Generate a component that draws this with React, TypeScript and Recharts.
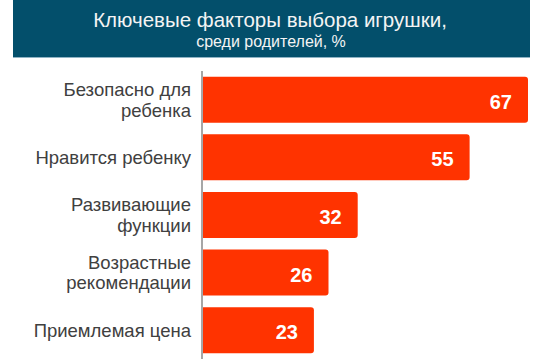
import React, { ReactElement } from 'react';
import { BarChart, Bar, XAxis, YAxis } from 'recharts';

const categories = [
  'Безопасно для|ребенка',
  'Нравится ребенку',
  'Развивающие|функции',
  'Возрастные|рекомендации',
  'Приемлемая цена',
];
const shares = [67, 55, 32, 26, 23];

const titleLine = 'Ключевые факторы выбора игрушки,';
const subtitleLine = 'среди родителей, %';

const FONT = '"Liberation Sans", Arial, sans-serif';

const data = categories.map((name, i) => ({ name, value: shares[i] }));

// category label, split on "|" into lines, right aligned next to the axis
const CategoryTick = (props: { x?: number; y?: number; payload?: { value: string } }): ReactElement => {
  const { x = 0, y = 0, payload } = props;
  const lines = (payload?.value ?? '').split('|');
  const lineHeight = 20.5;
  const tx = x - 3;
  return (
    <text x={tx} y={y} textAnchor="end" fill="#404040" fontSize={18.5} fontFamily={FONT}>
      {lines.map((line, i) => (
        <tspan key={i} x={tx} y={y + 6.5 + (i - (lines.length - 1) / 2) * lineHeight}>
          {line}
        </tspan>
      ))}
    </text>
  );
};

const ValueLabel = (props: { x?: number; y?: number; width?: number; height?: number; value?: number }): ReactElement => {
  const { x = 0, y = 0, width = 0, height = 0, value } = props;
  return (
    <text
      x={Number(x) + Number(width) - 16}
      y={Number(y) + Number(height) / 2 + 9}
      textAnchor="end"
      fill="#ffffff"
      fontSize={20}
      fontWeight="bold"
      fontFamily={FONT}
    >
      {value}
    </text>
  );
};

export default function App(): ReactElement {
  return (
    <div style={{ position: 'absolute', left: 0, top: 0, width: 542, height: 360, background: '#fff' }}>
      <BarChart
        width={542}
        height={360}
        data={data}
        layout="vertical"
        margin={{ top: 71, right: 14, bottom: 1, left: 0 }}
        barCategoryGap="10%"
      >
        <XAxis type="number" domain={[0, 67]} hide />
        <YAxis
          type="category"
          dataKey="name"
          width={202}
          tick={<CategoryTick />}
          tickLine={false}
          axisLine={{ stroke: '#a6a6a6', strokeWidth: 2 }}
          interval={0}
        />
        <Bar
          dataKey="value"
          fill="#ff3300"
          radius={[0, 3, 3, 0]}
          isAnimationActive={false}
          label={<ValueLabel />}
        />
      </BarChart>
      <svg width={542} height={60} style={{ position: 'absolute', left: 0, top: 0 }}>
        <rect x={13} y={0} width={517} height={57} fill="#034f6b" />
        <rect x={13} y={57} width={517} height={1} fill="#8fb3c4" />
        <text x={270} y={27} textAnchor="middle" fill="#f4f4f4" fontSize={20.5} fontFamily={FONT}>
          {titleLine}
        </text>
        <text x={271} y={47} textAnchor="middle" fill="#f4f4f4" fontSize={16} fontFamily={FONT}>
          {subtitleLine}
        </text>
      </svg>
    </div>
  );
}
